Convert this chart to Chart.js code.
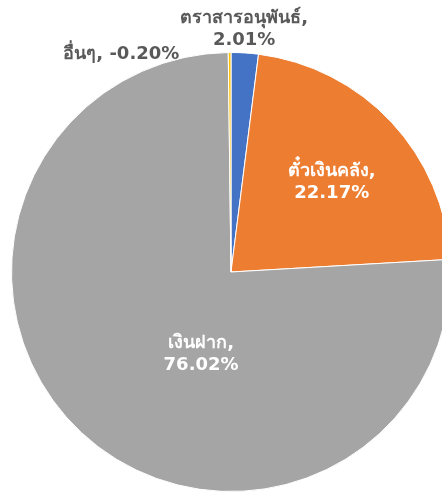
<!DOCTYPE html>
<html>
<head>
<meta charset="utf-8">
<script src="https://cdn.jsdelivr.net/npm/chart.js@4/dist/chart.umd.min.js"></script>
<style>
html,body{margin:0;padding:0;background:#fff;overflow:hidden;width:442px;height:496px;}
#wrap{position:relative;width:462px;height:496px;}
</style>
</head>
<body>
<div id="wrap"><canvas id="c" width="462" height="496"></canvas></div>
<script>
const categories = ['ตราสารอนุพันธ์', 'ตั๋วเงินคลัง', 'เงินฝาก', 'อื่นๆ'];
const percentLabels = ['2.01%', '22.17%', '76.02%', '-0.20%'];
const values = [2.01, 22.17, 76.02, 0.20];
const colors = ['#4472C4', '#ED7D31', '#A5A5A5', '#FFC000'];

// label placement relative to each slice: [angle offset deg from slice mid, radius fraction, color]
const labelPlacement = [
  {angle: -0.5, r: 1.105, color: '#595959'},
  {angle: 1.3, r: 0.615, color: '#ffffff'},
  {angle: -22.9, r: 0.397, color: '#ffffff'},
  {angle: -26.4, r: 1.11, color: '#595959', single: true}
];

const FONT = "bold 18px 'DejaVu Sans', Tahoma, 'Noto Sans', sans-serif";

const labelPlugin = {
  id: 'pieLabels',
  afterDatasetsDraw(chart) {
    const ctx = chart.ctx;
    const meta = chart.getDatasetMeta(0);
    ctx.save();
    ctx.font = FONT;
    ctx.textAlign = 'center';
    ctx.textBaseline = 'middle';
    meta.data.forEach((arc, i) => {
      const p = labelPlacement[i];
      const mid = (arc.startAngle + arc.endAngle) / 2 + p.angle * Math.PI / 180;
      const rr = arc.outerRadius * p.r;
      const x = arc.x + Math.cos(mid) * rr;
      const y = arc.y + Math.sin(mid) * rr;
      ctx.fillStyle = p.color;
      if (p.single) {
        ctx.fillText(categories[i] + ', ' + percentLabels[i], x, y);
      } else {
        ctx.fillText(categories[i] + ',', x, y - 11);
        ctx.fillText(percentLabels[i], x, y + 11);
      }
    });
    ctx.restore();
  }
};

new Chart(document.getElementById('c'), {
  type: 'pie',
  data: {
    labels: categories,
    datasets: [{
      data: values,
      backgroundColor: colors,
      borderColor: '#ffffff',
      borderWidth: 1
    }]
  },
  options: {
    responsive: false,
    animation: false,
    layout: {padding: {left: 11, right: 11, top: 52, bottom: 4}},
    plugins: {legend: {display: false}, tooltip: {enabled: false}}
  },
  plugins: [labelPlugin]
});
</script>
</body>
</html>
